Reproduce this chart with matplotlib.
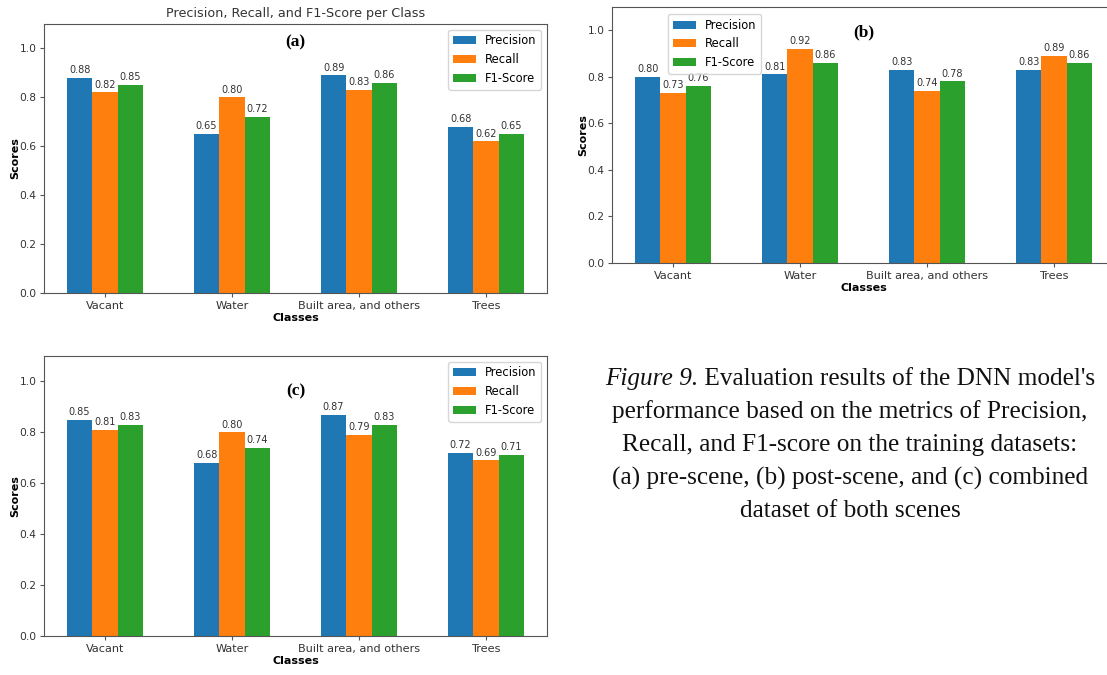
import matplotlib
matplotlib.use("Agg")
import matplotlib.pyplot as plt
import numpy as np

classes = ["Vacant", "Water", "Built area, and others", "Trees"]
metrics = ["Precision", "Recall", "F1-Score"]
colors = ["#1f77b4", "#ff7f0e", "#2ca02c"]

# pre-scene
pre_precision = [0.88, 0.65, 0.89, 0.68]
pre_recall = [0.82, 0.80, 0.83, 0.62]
pre_f1 = [0.85, 0.72, 0.86, 0.65]

# post-scene
post_precision = [0.80, 0.81, 0.83, 0.83]
post_recall = [0.73, 0.92, 0.74, 0.89]
post_f1 = [0.76, 0.86, 0.78, 0.86]

# combined
comb_precision = [0.85, 0.68, 0.87, 0.72]
comb_recall = [0.81, 0.80, 0.79, 0.69]
comb_f1 = [0.83, 0.74, 0.83, 0.71]

caption_lines = [
    "performance based on the metrics of Precision,",
    "Recall, and F1-score on the training datasets:",
    "(a) pre-scene, (b) post-scene, and (c) combined",
    "dataset of both scenes",
]

W, H = 1107, 675
fig = plt.figure(figsize=(W / 100, H / 100), dpi=100)


def px_axes(left, top, right, bottom):
    return fig.add_axes([left / W, 1 - bottom / H, (right - left) / W, (bottom - top) / H])


def score_panel(ax, series, tag, tag_y, legend_kw):
    x = np.arange(len(classes))
    width = 0.2
    for i, (vals, name, c) in enumerate(zip(series, metrics, colors)):
        bars = ax.bar(x + (i - 1) * width, vals, width, label=name, color=c)
        ax.bar_label(bars, fmt="%.2f", padding=2, fontsize=7, color="#333333")
    ax.set_xticks(x)
    ax.set_xticklabels(classes, fontsize=8.1, color="#333333")
    ax.set_ylim(0, 1.1)
    ax.set_yticks(np.arange(0, 1.01, 0.2))
    ax.tick_params(axis="y", labelsize=7.7, labelcolor="#333333")
    ax.tick_params(color="#555555", length=3, pad=2.5)
    ax.set_xlabel("Classes", fontsize=8, fontweight="bold", labelpad=2)
    ax.set_ylabel("Scores", fontsize=8, fontweight="bold")
    ax.yaxis.set_label_coords(-0.047, 0.5)
    for s in ax.spines.values():
        s.set_color("#555555")
    ax.text(0.5, tag_y, tag, transform=ax.transAxes, ha="center", va="center",
            family="Liberation Serif", fontweight="bold", fontsize=12.5)
    ax.legend(fontsize=8.3, handlelength=2.0, **legend_kw)


ax_a = px_axes(44, 24, 547, 293)
score_panel(ax_a, [pre_precision, pre_recall, pre_f1], "(a)", 0.93,
            dict(loc="upper right"))
ax_a.set_title("Precision, Recall, and F1-Score per Class", fontsize=9.2,
               color="#333333", pad=5)

ax_b = px_axes(612, 7, 1115, 263)
score_panel(ax_b, [post_precision, post_recall, post_f1], "(b)", 0.90,
            dict(loc="upper left", bbox_to_anchor=(0.1, 0.995)))

ax_c = px_axes(44, 356, 547, 636)
score_panel(ax_c, [comb_precision, comb_recall, comb_f1], "(c)", 0.873,
            dict(loc="upper right"))

# caption block, first line has an italic lead-in
cx = 850 / W
line_h = 33 / H
y0 = 1 - 379 / H
cap_kw = dict(family="Liberation Serif", fontsize=18.2, va="center", color="#111111")
t1 = fig.text(0, y0, "Figure 9.", style="italic", ha="left", **cap_kw)
t2 = fig.text(0, y0, " Evaluation results of the DNN model's", ha="left", **cap_kw)
r = fig.canvas.get_renderer()
w1 = t1.get_window_extent(r).width / W
w2 = t2.get_window_extent(r).width / W
left = cx - (w1 + w2) / 2
t1.set_x(left)
t2.set_x(left + w1)
for i, line in enumerate(caption_lines, start=1):
    fig.text(cx, y0 - i * line_h, line, ha="center", **cap_kw)

fig.savefig("out.png", dpi=100)
